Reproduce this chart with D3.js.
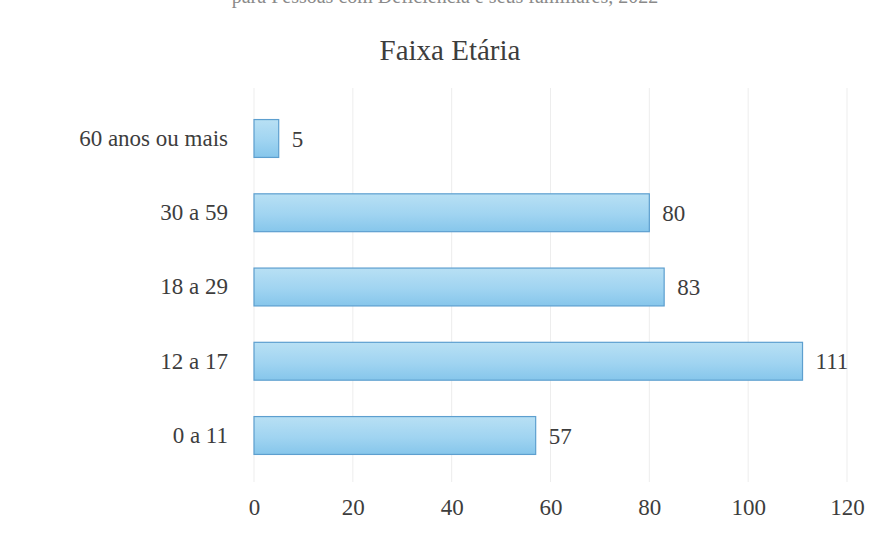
<!DOCTYPE html>
<html>
<head>
<meta charset="utf-8">
<script src="https://cdn.jsdelivr.net/npm/d3@7"></script>
<style>
  body { margin: 0; background: #fff; }
  text { font-family: 'Liberation Serif', 'Times New Roman', Times, serif; }
</style>
</head>
<body>
<div id="chart"></div>
<script>
// data
const categories = ['60 anos ou mais', '30 a 59', '18 a 29', '12 a 17', '0 a 11']
const values = [5, 80, 83, 111, 57]
const xTicks = [0, 20, 40, 60, 80, 100, 120]

const width = 884
const height = 537
const margin = { top: 101, right: 37, bottom: 64, left: 254 }
const textColor = '#3d3d3d'

const svg = d3.select('#chart')
  .append('svg')
  .attr('width', width)
  .attr('height', height)
  .attr('viewBox', [0, 0, width, height])

const defs = svg.append('defs')
const grad = defs.append('linearGradient')
  .attr('id', 'barFill')
  .attr('x1', 0).attr('y1', 0).attr('x2', 0).attr('y2', 1)
grad.append('stop').attr('offset', '0%').attr('stop-color', '#b8e0f4')
grad.append('stop').attr('offset', '55%').attr('stop-color', '#a0d4f1')
grad.append('stop').attr('offset', '100%').attr('stop-color', '#86c6eb')

const xScale = d3.scaleLinear()
  .domain([0, 120])
  .range([margin.left, width - margin.right])

const yScale = d3.scaleBand()
  .domain(categories)
  .range([margin.top, height - margin.bottom])
  .paddingInner(0.49)
  .paddingOuter(0.25)

// subtitle line, mostly cut off at the top of the scan
svg.append('text')
  .attr('x', 445)
  .attr('y', 3)
  .attr('text-anchor', 'middle')
  .attr('font-size', 20)
  .attr('fill', '#8a8a8a')
  .text('para Pessoas com Deficiência e seus familiares, 2022')

svg.append('text')
  .attr('x', 450)
  .attr('y', 60)
  .attr('text-anchor', 'middle')
  .attr('font-size', 29)
  .attr('fill', textColor)
  .text('Faixa Etária')

// gridlines
svg.append('g')
  .selectAll('line')
  .data(xTicks)
  .join('line')
  .attr('x1', d => xScale(d))
  .attr('x2', d => xScale(d))
  .attr('y1', 88)
  .attr('y2', 482)
  .attr('stroke', '#ededed')
  .attr('stroke-width', 1)

// bars
svg.append('g')
  .selectAll('rect')
  .data(values)
  .join('rect')
  .attr('x', xScale(0))
  .attr('y', (d, i) => yScale(categories[i]))
  .attr('width', d => xScale(d) - xScale(0))
  .attr('height', yScale.bandwidth())
  .attr('fill', 'url(#barFill)')
  .attr('stroke', '#5d9fcf')
  .attr('stroke-width', 1.2)

// value labels
svg.append('g')
  .selectAll('text')
  .data(values)
  .join('text')
  .attr('x', d => xScale(d) + 13)
  .attr('y', (d, i) => yScale(categories[i]) + yScale.bandwidth() / 2)
  .attr('dy', '0.35em')
  .attr('font-size', 23)
  .attr('fill', textColor)
  .text(d => d)

// y axis
const yAxis = g => g
  .attr('transform', `translate(${margin.left - 26},0)`)
  .call(d3.axisLeft(yScale).tickSize(0).tickPadding(0))
  .call(g => g.select('.domain').remove())
  .call(g => g.selectAll('text')
    .attr('font-size', 23)
    .attr('fill', textColor))

// x axis
const xAxis = g => g
  .attr('transform', `translate(0,${height - 34})`)
  .call(d3.axisBottom(xScale).tickValues(xTicks).tickSize(0).tickPadding(0))
  .call(g => g.select('.domain').remove())
  .call(g => g.selectAll('text')
    .attr('font-size', 23)
    .attr('fill', textColor)
    .attr('dy', '0.5em'))

svg.append('g').call(yAxis)
svg.append('g').call(xAxis)
</script>
</body>
</html>
